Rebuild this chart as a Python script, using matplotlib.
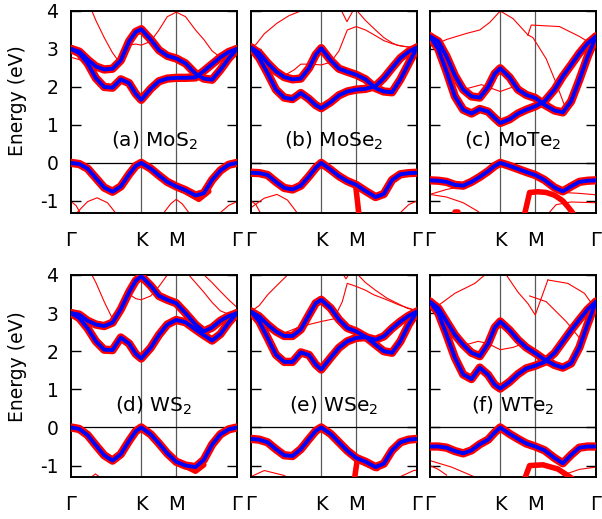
import numpy as np
import matplotlib.pyplot as plt

plt.rcParams['font.family'] = 'DejaVu Sans'
plt.rcParams['mathtext.fontset'] = 'dejavusans'
plt.rcParams['axes.unicode_minus'] = False

# path Gamma-K-M-Gamma, segment lengths in units of pi/a
seg_len = [4 / 3, 2 / 3, 2 / np.sqrt(3)]
k_nodes = np.concatenate([[0], np.cumsum(seg_len)]) / sum(seg_len)
node_labels = ['Γ', 'K', 'M', 'Γ']

# sampling along the path (fraction of path length) for the main bands
kf = [0, .05, .1, .15, .2, .25, .3, .35, .39, .423, .48, .53, .58, .634,
      .69, .75, .8, .85, .9, .95, 1.0]

# ---- MoS2
mos2_vb = [0, -0.03, -0.15, -0.4, -0.65, -0.76, -0.62, -0.3, -0.08, 0, -0.15, -0.33,
           -0.5, -0.62, -0.72, -0.86, -0.8, -0.45, -0.2, -0.05, 0]
mos2_c1 = [3.0, 2.89, 2.62, 2.23, 2.0, 1.98, 2.2, 2.1, 1.82, 1.66, 1.95, 2.15,
           2.22, 2.24, 2.24, 2.25, 2.42, 2.6, 2.78, 2.92, 3.0]
mos2_c2 = [3.0, 2.93, 2.72, 2.54, 2.46, 2.48, 2.7, 3.2, 3.45, 3.52, 3.25, 2.97,
           2.82, 2.75, 2.62, 2.35, 2.22, 2.19, 2.45, 2.75, 3.0]
mos2_thin = [
    (kf, [2.78, 2.72, 2.62, 2.55, 2.5, 2.52, 2.7, 3.1, 3.13, 3.1, 3.2, 3.5, 3.85,
          3.97, 3.85, 3.5, 3.25, 2.95, 2.78, 2.78, 2.8]),
    ([.1, .126, .15, .2, .25, .28], [4.3, 4.0, 3.75, 3.3, 2.9, 2.72]),
    ([0, .036, .1, .157, .22, .267, .3], [-1.45, -1.31, -1.02, -0.92, -1.05, -1.31, -1.45]),
    ([.54, .56, .6, .634, .67, .71, .73], [-1.45, -1.31, -1.08, -0.96, -1.08, -1.31, -1.45]),
    ([.88, .9, .95, 1.0], [-1.45, -1.31, -1.12, -1.02]),
    ([0, .03, .06], [-1.02, -1.12, -1.35]),
]
mos2_fat = [([.7, .77, .83], [-0.78, -0.96, -0.75])]

# ---- MoSe2
mose2_vb = [-0.26, -0.27, -0.32, -0.5, -0.66, -0.7, -0.6, -0.35, -0.13, 0, -0.18, -0.35,
            -0.48, -0.58, -0.74, -0.9, -0.82, -0.45, -0.3, -0.27, -0.26]
mose2_c1 = [3.04, 2.76, 2.36, 1.93, 1.72, 1.68, 1.84, 1.68, 1.52, 1.44, 1.6, 1.78,
            1.88, 1.93, 1.95, 2.02, 2.23, 2.5, 2.76, 2.93, 3.04]
mose2_c2 = [3.04, 2.89, 2.63, 2.41, 2.26, 2.2, 2.22, 2.5, 2.85, 3.02, 2.7, 2.48,
            2.4, 2.32, 2.2, 1.97, 1.88, 1.86, 2.2, 2.62, 3.04]
mose2_thin = [
    ([0, .03, .08, .157, .23, .3], [3.04, 3.12, 3.4, 3.68, 3.88, 4.0]),
    ([.54, .578, .62], [4.05, 3.72, 4.05]),
    ([.2, .26, .3, .36, .423, .48, .53, .58, .634, .69, .75, .8, .85, .9, .95, 1.0],
     [2.3, 2.45, 2.6, 2.6, 2.58, 2.65, 2.95, 3.5, 3.59, 3.5, 3.35, 3.22, 3.14, 3.08, 3.05, 3.04]),
    ([.64, .69, .75, .8, .85, .88, .95, 1.0], [4.0, 3.75, 3.5, 3.3, 3.16, 3.1, 3.05, 3.04]),
    ([0, .08, .157, .22, .277, .3], [-1.18, -0.93, -0.83, -0.98, -1.31, -1.42]),
    ([.88, .9, .95, 1.0], [-1.45, -1.31, -1.1, -1.0]),
    ([0, .03, .06], [-1.0, -1.1, -1.35]),
]
mose2_fat = [([.63, .65], [-0.58, -1.35])]

# ---- MoTe2
mote2_vb = [-0.46, -0.47, -0.5, -0.58, -0.6, -0.5, -0.37, -0.22, -0.08, 0, -0.08, -0.16,
            -0.24, -0.32, -0.45, -0.65, -0.75, -0.62, -0.5, -0.47, -0.46]
mote2_c1 = [3.33, 3.0, 2.4, 1.75, 1.4, 1.3, 1.42, 1.35, 1.18, 1.05, 1.15, 1.3,
            1.4, 1.49, 1.62, 1.93, 2.28, 2.58, 2.89, 3.15, 3.33]
mote2_c2 = [3.33, 3.2, 2.8, 2.3, 1.93, 1.75, 1.72, 2.0, 2.35, 2.49, 2.25, 1.93,
            1.79, 1.71, 1.53, 1.38, 1.33, 1.62, 2.19, 2.8, 3.33]
mote2_thin = [
    ([0, .1, .22, .3, .36, .423, .5, .59], [3.06, 3.25, 3.41, 3.5, 3.7, 4.0, 3.8, 3.37]),
    ([.59, .62, .7, .76, .82], [3.37, 3.3, 2.74, 2.1, 1.4]),
    ([.59, .61, .78, .9, 1.0], [3.37, 3.63, 3.59, 3.33, 3.06]),
    ([.2, .31, .423, .5, .58], [1.93, 2.06, 1.88, 2.0, 1.85]),
    ([0, .1, .19], [-0.83, -0.7, -0.62]),
    ([0, .1, .2, .29, .32], [-0.83, -0.9, -1.05, -1.28, -1.4]),
    ([.8, .89, 1.0], [-0.78, -0.8, -0.84]),
    ([.7, .76, .85, 1.0], [-1.4, -1.1, -1.03, -1.05]),
]
mote2_fat = [([.57, .6, .65, .7, .75, .8, .83, .86], [-1.35, -0.78, -0.76, -0.78, -0.85, -1.0, -1.15, -1.32]),
             ([.15, .17], [-1.3, -1.3])]

# ---- WS2
ws2_vb = [0, -0.04, -0.2, -0.47, -0.73, -0.87, -0.7, -0.35, -0.1, 0, -0.18, -0.42,
          -0.68, -0.9, -1.0, -1.04, -0.85, -0.45, -0.18, -0.05, 0]
ws2_c1 = [3.0, 2.87, 2.6, 2.26, 2.04, 2.03, 2.36, 2.2, 1.93, 1.81, 2.09, 2.43,
          2.7, 2.82, 2.76, 2.57, 2.42, 2.28, 2.45, 2.75, 3.0]
ws2_c2 = [3.0, 2.96, 2.8, 2.7, 2.66, 2.75, 3.1, 3.55, 3.85, 3.97, 3.72, 3.45,
          3.35, 3.26, 3.0, 2.7, 2.52, 2.62, 2.8, 2.92, 3.0]
ws2_thin = [
    (kf, [2.9, 2.86, 2.8, 2.75, 2.72, 2.78, 3.0, 3.5, 3.38, 3.35, 3.45, 3.7, 4.0,
          4.2, 4.1, 3.8, 3.55, 3.28, 3.06, 2.97, 2.9]),
    ([.1, .126, .15, .2, .25, .27], [4.25, 4.0, 3.8, 3.3, 2.85, 2.72]),
    ([.79, .85, .9, .95, 1.0], [4.05, 3.8, 3.57, 3.35, 3.15]),
    ([.1, .126, .147, .17, .2], [-1.4, -1.29, -1.22, -1.29, -1.4]),
    ([.6, .634, .67], [-1.35, -1.28, -1.35]),
]
ws2_fat = [([.69, .75, .8], [-1.02, -1.15, -0.98])]

# ---- WSe2
wse2_vb = [-0.3, -0.32, -0.39, -0.57, -0.73, -0.75, -0.57, -0.3, -0.09, 0, -0.17, -0.39,
           -0.61, -0.8, -0.9, -1.04, -0.95, -0.6, -0.39, -0.32, -0.3]
wse2_c1 = [3.04, 2.78, 2.35, 1.91, 1.72, 1.72, 1.97, 1.9, 1.65, 1.52, 1.83, 2.09,
           2.26, 2.35, 2.37, 2.3, 2.39, 2.6, 2.78, 2.93, 3.04]
wse2_c2 = [3.04, 2.91, 2.7, 2.52, 2.4, 2.4, 2.57, 2.96, 3.26, 3.35, 3.13, 2.83,
           2.61, 2.52, 2.38, 2.17, 2.0, 1.96, 2.26, 2.7, 3.04]
wse2_thin = [
    ([0, .05, .1, .15, .22, .26], [3.04, 3.2, 3.48, 3.7, 4.0, 4.15]),
    ([.55, .572, .595], [4.05, 3.9, 4.05]),
    ([.2, .3, .423, .5, .55, .58, .634, .69, .74, .8, .9, 1.0],
     [2.48, 2.65, 2.78, 2.85, 3.3, 3.78, 3.7, 3.6, 3.48, 3.38, 3.2, 3.06]),
    ([.634, .69, .75, .82, .94, 1.0], [4.05, 3.8, 3.6, 3.39, 3.13, 3.06]),
    ([0, .08, .2, .25], [-1.29, -1.13, -1.26, -1.4]),
    ([.88, .9, .98, 1.0], [-1.45, -1.29, -1.13, -1.12]),
]
wse2_fat = [([.625, .64, .7, .76], [-1.3, -0.85, -0.97, -1.08])]

# ---- WTe2
wte2_vb = [-0.5, -0.5, -0.53, -0.62, -0.68, -0.6, -0.44, -0.32, -0.13, 0, -0.17, -0.3,
           -0.42, -0.5, -0.6, -0.8, -0.94, -0.72, -0.53, -0.5, -0.5]
wte2_c1 = [3.3, 3.0, 2.43, 1.83, 1.39, 1.27, 1.57, 1.38, 1.12, 1.02, 1.2, 1.4,
           1.55, 1.62, 1.72, 1.95, 2.25, 2.55, 2.83, 3.1, 3.3]
wte2_c2 = [3.3, 3.13, 2.78, 2.43, 2.17, 1.96, 1.87, 2.2, 2.62, 2.78, 2.55, 2.3,
           2.1, 1.95, 1.78, 1.64, 1.57, 1.68, 2.1, 2.72, 3.3]
wte2_thin = [
    ([0, .15, .27, .33, .36], [3.04, 3.52, 3.78, 4.0, 4.1]),
    ([.46, .53, .59, .634, .71], [4.0, 3.55, 3.25, 2.95, 3.87]),
    ([.71, .83, .93, 1.0], [3.87, 3.78, 3.52, 3.09]),
    ([.6, .634, .7, .82, .9], [3.45, 3.4, 3.3, 2.78, 2.35]),
    ([.15, .2, .29, .35, .423, .5, .56], [2.4, 2.15, 2.26, 2.2, 2.04, 2.1, 2.2]),
    ([0, .13, .27, .3], [-0.87, -1.04, -1.3, -1.4]),
    ([0, .05, .1], [-1.0, -1.1, -1.25]),
    ([.8, .9, 1.0], [-1.25, -1.1, -1.04]),
]
wte2_fat = [([.57, .6, .68, .77, .83, .86], [-1.35, -1.0, -0.98, -1.09, -1.26, -1.35])]

panels = [
    ('(a) MoS$_2$', mos2_vb, mos2_c1, mos2_c2, mos2_thin, mos2_fat),
    ('(b) MoSe$_2$', mose2_vb, mose2_c1, mose2_c2, mose2_thin, mose2_fat),
    ('(c) MoTe$_2$', mote2_vb, mote2_c1, mote2_c2, mote2_thin, mote2_fat),
    ('(d) WS$_2$', ws2_vb, ws2_c1, ws2_c2, ws2_thin, ws2_fat),
    ('(e) WSe$_2$', wse2_vb, wse2_c1, wse2_c2, wse2_thin, wse2_fat),
    ('(f) WTe$_2$', wte2_vb, wte2_c1, wte2_c2, wte2_thin, wte2_fat),
]

W, H = 602, 519
fig = plt.figure(figsize=(W / 100, H / 100), dpi=100)

col_left = [71, 251, 430]
row_top = [11, 275]
ax_w, ax_h = 166, 202
ylims = [(-1.32, 4.0), (-1.3, 4.0)]

for i, (label, vb, c1, c2, thin, fat) in enumerate(panels):
    row, col = divmod(i, 3)
    ax = fig.add_axes([col_left[col] / W, 1 - (row_top[row] + ax_h) / H, ax_w / W, ax_h / H])

    for xk in k_nodes[1:3]:
        ax.axvline(xk, color='0.35', lw=0.9, zorder=1)
    ax.axhline(0, color='black', lw=0.9, zorder=1)

    for k, e in thin:
        ax.plot(k, e, color='red', lw=0.8, zorder=2)
    # extra fat-band weight on lower bands
    for k, e in fat:
        ax.plot(k, e, color='red', lw=4, solid_capstyle='round', zorder=3)
    for band in (vb, c1, c2):
        ax.plot(kf, band, color='red', lw=6, solid_capstyle='round', zorder=3)
    for band in (vb, c1, c2):
        ax.plot(kf, band, color='blue', lw=2.8, solid_capstyle='round', zorder=4)

    ax.text(0.5, 0.57, label, ha='center', va='center', fontsize=14.5, zorder=5)

    ax.set_xlim(0, 1)
    ax.set_ylim(*ylims[row])
    ax.set_xticks(k_nodes)
    ax.set_xticklabels(node_labels)
    ax.tick_params(axis='x', length=0, pad=13, labelsize=14)
    ax.set_yticks([-1, 0, 1, 2, 3, 4])
    ax.tick_params(axis='y', direction='in', length=7, width=1, right=True,
                   labelleft=(col == 0), labelsize=13.5, pad=9)
    for sp in ax.spines.values():
        sp.set_linewidth(1.4)

fig.text(18 / W, 1 - 101 / H, 'Energy (eV)', rotation=90, ha='center', va='center', fontsize=13.5)
fig.text(18 / W, 1 - 367 / H, 'Energy (eV)', rotation=90, ha='center', va='center', fontsize=13.5)

fig.savefig('out.png', dpi=100)
